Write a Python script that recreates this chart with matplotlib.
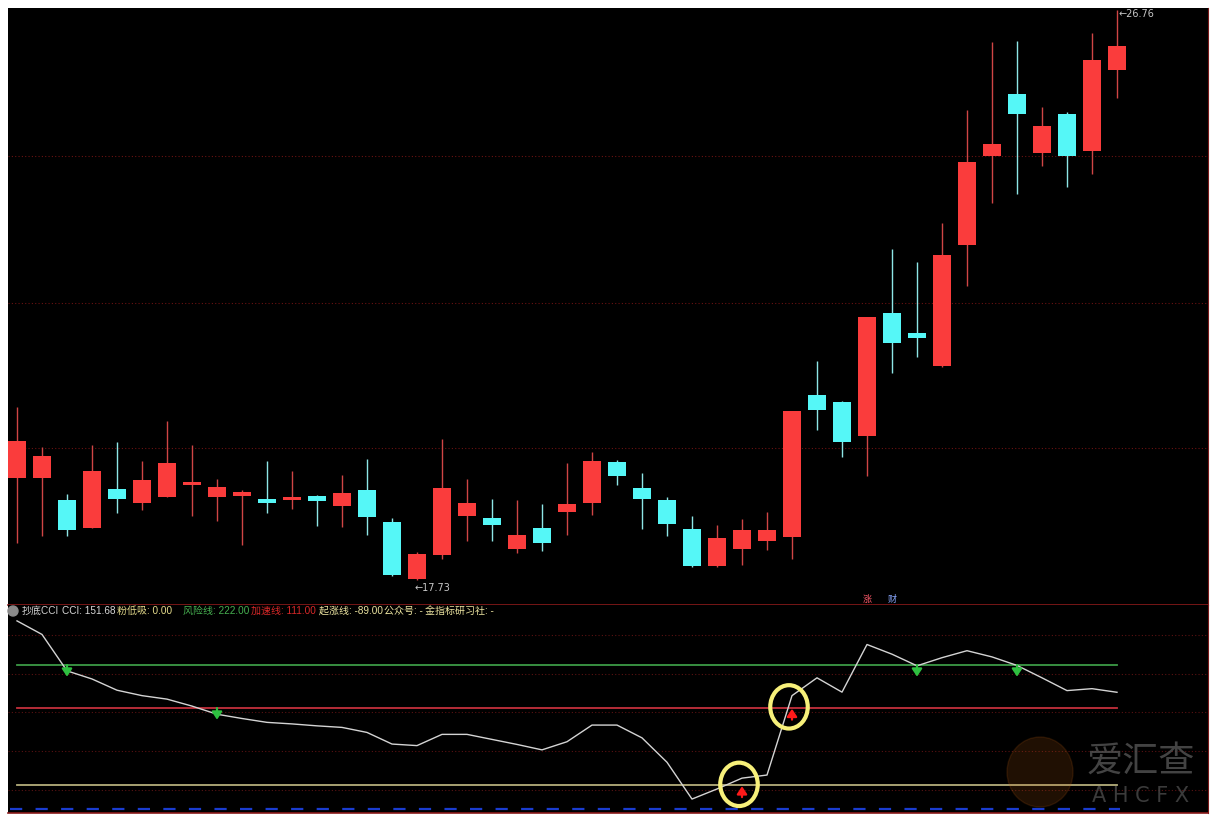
import matplotlib.pyplot as plt
from matplotlib.patches import Ellipse
import numpy as np

plt.rcParams['font.family'] = ['Noto Sans CJK SC', 'DejaVu Sans']

# candle data (price)
opens = [19.35, 19.35, 19.00, 18.55, 19.17, 18.95, 19.05, 19.23, 19.05, 19.06, 18.98, 18.99, 19.06, 18.90, 19.16,
         18.65, 17.75, 18.13, 18.74, 18.72, 18.22, 18.56, 18.80, 18.95, 19.60, 19.18, 19.00, 18.54, 17.95, 18.22,
         18.35, 18.41, 20.66, 20.55, 20.01, 21.96, 21.65, 21.12, 23.03, 24.44, 25.43, 24.49, 25.12, 24.53, 25.81]
closes = [19.94, 19.70, 18.53, 19.46, 19.01, 19.31, 19.59, 19.28, 19.20, 19.10, 18.95, 19.05, 18.98, 19.11, 18.73,
          17.81, 18.14, 19.18, 18.95, 18.60, 18.44, 18.32, 18.93, 19.62, 19.37, 19.02, 18.62, 17.95, 18.39, 18.52,
          18.52, 20.40, 20.42, 19.91, 21.90, 21.48, 21.57, 22.88, 24.35, 24.63, 25.12, 24.93, 24.44, 25.97, 26.19]
highs = [20.47, 19.84, 19.09, 19.87, 19.91, 19.62, 20.25, 19.87, 19.33, 19.16, 19.62, 19.45, 19.07, 19.39, 19.64,
         18.71, 18.18, 19.96, 19.33, 19.01, 19.00, 18.93, 19.59, 19.76, 19.63, 19.42, 19.05, 18.74, 18.60, 18.70,
         18.80, 20.41, 21.20, 20.56, 21.90, 22.97, 22.77, 23.39, 25.18, 26.25, 26.27, 25.23, 25.15, 26.39, 26.76]
lows = [18.32, 18.43, 18.43, 18.55, 18.79, 18.84, 19.05, 18.74, 18.67, 18.28, 18.79, 18.86, 18.59, 18.57, 18.44,
        17.80, 17.73, 18.06, 18.35, 18.35, 18.15, 18.19, 18.44, 18.76, 19.24, 18.54, 18.42, 17.94, 17.93, 17.97,
        18.21, 18.06, 20.10, 19.68, 19.37, 21.01, 21.26, 21.10, 22.38, 23.71, 23.84, 24.29, 23.96, 24.16, 25.36]
price_grid = [19.82, 22.12, 24.45]

# indicator
cci = [336, 301, 207, 186, 157, 143, 134, 116, 95, 84, 74, 70, 65, 61, 48, 18, 14, 43, 43, 30, 17, 3, 24, 67, 67,
       34, -29, -124, -98, -70, -62, 143, 189, 152, 275, 250, 220, 241, 259, 243, 221, 189, 156, 161, 151.68]
risk_line = 222
speed_line = 111
rise_line = -89
base_line = -150
cci_grid = [300, 200, 100, 0, -100]

W, H = 1217, 823
fig = plt.figure(figsize=(W / 100, H / 100), dpi=100, facecolor="white")

def fx(px):
    return px / W

def fy(py):
    return 1 - py / H

ax1 = fig.add_axes([fx(8), fy(605), fx(1200), (605 - 8) / H], facecolor="black")
ax2 = fig.add_axes([fx(8), fy(813), fx(1200), (813 - 605) / H], facecolor="black")

n = len(opens)
x = np.arange(n)
xlim = (-0.36, 47.64)

# ---- candles
red = "#fa3c3c"
cyan = "#55f7f7"
for i in range(n):
    up = closes[i] >= opens[i]
    col = red if up else cyan
    wick = "#d04545" if up else "#8ee6e6"
    ax1.vlines(i, lows[i], highs[i], color=wick, lw=1.0, zorder=2)
    h = max(abs(closes[i] - opens[i]), 0.06)
    ax1.bar(i, h, bottom=min(opens[i], closes[i]), width=0.72, color=col, zorder=3, linewidth=0)

for g in price_grid:
    ax1.axhline(g, color="#6a1212", lw=0.8, ls=(0, (1, 2)), zorder=1)

imin = int(np.argmin(lows))
imax = int(np.argmax(highs))
ax1.annotate("←%.2f" % lows[imin], (imin, lows[imin]), xytext=(-2, -6), textcoords="offset points",
             color="#c8c8c8", fontsize=7, va="center", ha="left", family="DejaVu Sans")
ax1.annotate("←%.2f" % highs[imax], (imax, highs[imax]), xytext=(1, -3), textcoords="offset points",
             color="#c8c8c8", fontsize=7, va="center", ha="left", family="DejaVu Sans")

ax1.set_xlim(*xlim)
ax1.set_ylim(17.334, 26.792)
ax1.text(34.0, 17.42, "涨", color="#ff5a6a", fontsize=6.5, ha="center", va="center")
ax1.text(35.0, 17.42, "财", color="#8aa8ff", fontsize=6.5, ha="center", va="center")

# ---- CCI panel
for g in cci_grid:
    ax2.axhline(g, color="#5a1212", lw=0.8, ls=(0, (1, 2)), zorder=1)
ax2.plot([0, n - 1], [risk_line] * 2, color="#3c9a46", lw=1.3, zorder=2)
ax2.plot([0, n - 1], [speed_line] * 2, color="#c4303c", lw=1.3, zorder=2)
ax2.plot([0, n - 1], [rise_line] * 2, color="#b5ae7c", lw=1.3, zorder=2)
ax2.plot([-0.3, n - 0.9], [base_line] * 2, color="#1a3cd0", lw=1.6, ls=(0, (5.5, 6)), zorder=2)
ax2.plot(x, cci, color="#d4d4d4", lw=1.0, zorder=4)

# signals: green when falling through 222/111, red when rising through -89/111
arrow_style = "-|>,head_length=0.45,head_width=0.3"
for i in range(1, n):
    for lvl in (risk_line, speed_line):
        if cci[i - 1] > lvl >= cci[i]:
            ax2.annotate("", xy=(i, lvl - 30), xytext=(i, lvl),
                         arrowprops=dict(arrowstyle=arrow_style, color="#2ec040", lw=1.6,
                                         mutation_scale=10, shrinkA=0, shrinkB=0), zorder=5)
    for lvl in (rise_line, speed_line):
        if cci[i - 1] < lvl <= cci[i]:
            ax2.annotate("", xy=(i, lvl - 2), xytext=(i, lvl - 30),
                         arrowprops=dict(arrowstyle=arrow_style, color="#ff1a1a", lw=1.6,
                                         mutation_scale=10, shrinkA=0, shrinkB=0), zorder=5)
            ax2.add_patch(Ellipse((i - 0.12, lvl + 3), 1.5, 112, fill=False, ec="#f7f07a", lw=3.0, zorder=6))

ax2.set_xlim(*xlim)
ax2.set_ylim(-160, 377)

for ax in (ax1, ax2):
    ax.set_xticks([])
    ax.set_yticks([])
    ax.spines["top"].set_visible(False)
    ax.spines["left"].set_visible(False)
    ax.spines["right"].set_color("#7a1818")
    ax.spines["bottom"].set_color("#8a1a1a")
    ax.spines["bottom"].set_linewidth(1.2)

# header
hy = fy(611)
fig.patches.append(Ellipse((fx(13), hy), 10 / W, 10 / H, transform=fig.transFigure, color="#8a8a8a", zorder=5))
fig.text(fx(13), hy, "⌄", color="white", fontsize=5, ha="center", va="center", family="DejaVu Sans")
parts = [
    (22, "抄底CCI", "#d0d0d0"),
    (62, "CCI: 151.68", "#d8d8d8"),
    (117, "粉低吸: 0.00", "#e6dc8c"),
    (183, "风险线: 222.00", "#46b050"),
    (251, "加速线: 111.00", "#d82828"),
    (319, "起涨线: -89.00", "#ece4a0"),
    (384, "公众号: -", "#ece4a0"),
    (425, "金指标研习社: -", "#ece4a0"),
]
for px, s, c in parts:
    fig.text(fx(px), hy, s, color=c, fontsize=7.2, ha="left", va="center",
             family=["Liberation Sans", "Noto Sans CJK SC"])

# watermark
fig.patches.append(Ellipse((fx(1040), fy(772)), 66 / W, 70 / H, transform=fig.transFigure,
                           color="#c86414", alpha=0.16, zorder=5))
fig.text(fx(1141), fy(762), "爱汇查", color="#5a5a5a", alpha=0.75, fontsize=26, ha="center", va="center")
fig.text(fx(1141), fy(796), "A H C F X", color="#4a4a4a", alpha=0.8, fontsize=15, ha="center", va="center",
         family="DejaVu Sans")

plt.savefig("out.png", dpi=100, facecolor="white")
plt.close()
